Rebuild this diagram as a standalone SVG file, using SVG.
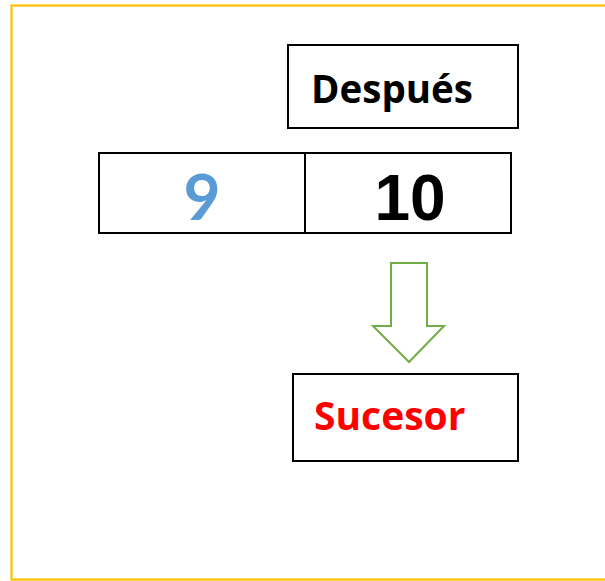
<svg xmlns="http://www.w3.org/2000/svg" width="605" height="581" viewBox="0 0 605 581">
<style>
.box{fill:#fff;stroke:#000;stroke-width:2}
.lbl{font-family:"Open Sans","Liberation Sans",sans-serif;font-weight:bold}
</style>
<rect x="0" y="0" width="605" height="581" fill="#fff"/>
<rect id="frame" x="11.5" y="5.5" width="620" height="574" fill="none" stroke="#FFC000" stroke-width="2.2"/>
<g id="despues">
<rect class="box" x="288" y="45" width="230" height="83"/>
<text class="lbl" x="311" y="103" font-size="38.5" fill="#000">Después</text>
</g>
<g id="numeros">
<rect class="box" x="99" y="153" width="412" height="80"/>
<line x1="305" y1="153" x2="305" y2="233" stroke="#000" stroke-width="2"/>
<text x="202" y="220" font-family="Lato,'Liberation Sans',sans-serif" font-weight="bold" font-size="64" fill="#5B9BD5" text-anchor="middle">9</text>
<text x="410" y="220" font-family="'Liberation Sans',sans-serif" font-weight="bold" font-size="64" fill="#000" text-anchor="middle">10</text>
</g>
<g id="connectors">
<polygon points="391,263 427,263 427,326 444,326 409,362 373,326 391,326" fill="#fff" stroke="#70AD47" stroke-width="2"/>
</g>
<g id="sucesor">
<rect class="box" x="293" y="374" width="225" height="87"/>
<text class="lbl" x="314" y="430" font-size="39" fill="#FF0000">Sucesor</text>
</g>
</svg>
